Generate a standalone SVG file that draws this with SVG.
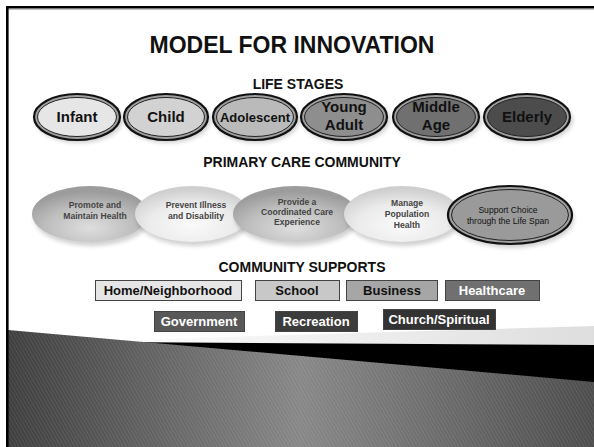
<svg xmlns="http://www.w3.org/2000/svg" width="594" height="447" viewBox="0 0 594 447">
<defs>
<style>
text{font-family:"Liberation Sans",Arial,sans-serif;font-weight:bold;text-anchor:middle}
.h1{font-size:23px;fill:#111}
.h2{font-size:14px;fill:#111}
.ls{font-size:15px;fill:#111}
.pc{font-size:8.6px;fill:#444}
.bx{font-size:13px}
.bs{stroke:#444;stroke-width:1}
.outer{stroke:#111;stroke-width:2.2;fill:#a0a0a0}
.inner{stroke:#222;stroke-width:1}
.shadow{fill:#000;opacity:0.18}
</style>
<radialGradient id="gDark" cx="0.5" cy="0.75" r="0.65">
<stop offset="0" stop-color="#dedede"/><stop offset="0.6" stop-color="#bdbdbd"/><stop offset="1" stop-color="#9c9c9c"/>
</radialGradient>
<radialGradient id="gLight" cx="0.5" cy="0.7" r="0.65">
<stop offset="0" stop-color="#fafafa"/><stop offset="0.6" stop-color="#ebebeb"/><stop offset="1" stop-color="#cfcfcf"/>
</radialGradient>
<linearGradient id="gBottom" x1="0" y1="0" x2="1" y2="0">
<stop offset="0" stop-color="#3e3e3e"/><stop offset="0.5" stop-color="#878787"/><stop offset="1" stop-color="#4c4c4c"/>
</linearGradient>
<linearGradient id="gCurl" x1="0" y1="0" x2="1" y2="0">
<stop offset="0" stop-color="#ffffff"/><stop offset="1" stop-color="#dedede"/>
</linearGradient>
<pattern id="stripes" width="3" height="10" patternUnits="userSpaceOnUse" patternTransform="rotate(-30)">
<rect x="0" y="0" width="1" height="10" fill="#fff" opacity="0.09"/>
</pattern>
<filter id="blur" x="-20%" y="-20%" width="140%" height="140%"><feGaussianBlur stdDeviation="2"/></filter>
</defs>

<rect width="594" height="447" fill="#fff"/>

<g id="background">
<polygon points="90,341 594,326 594,346 130,344" fill="url(#gCurl)"/>
<polygon points="110,342 594,345 594,447 8,447" fill="#000"/>
<polygon points="8,330 594,382 594,447 8,447" fill="url(#gBottom)"/>
<polygon points="8,330 594,382 594,447 8,447" fill="url(#stripes)"/>
<rect x="6" y="6" width="588" height="2.6" fill="#000"/>
<rect x="8" y="8.6" width="586" height="1" fill="#999"/>
<rect x="6" y="6" width="2.6" height="441" fill="#000"/>
</g>

<text class="h1" x="292" y="53">MODEL FOR INNOVATION</text>
<text class="h2" x="298" y="89">LIFE STAGES</text>
<text class="h2" x="302" y="167">PRIMARY CARE COMMUNITY</text>
<text class="h2" x="302" y="272">COMMUNITY SUPPORTS</text>

<g id="infant">
<ellipse class="shadow" cx="79" cy="120" rx="44" ry="23" filter="url(#blur)"/>
<ellipse class="outer" cx="77" cy="117" rx="43" ry="23"/>
<ellipse class="inner" cx="77" cy="117" rx="39.5" ry="19.5" fill="#e6e6e6"/>
<text class="ls" x="77" y="122">Infant</text>
</g>
<g id="child">
<ellipse class="shadow" cx="168" cy="120" rx="43" ry="23" filter="url(#blur)"/>
<ellipse class="outer" cx="166" cy="117" rx="42" ry="23"/>
<ellipse class="inner" cx="166" cy="117" rx="38.5" ry="19.5" fill="#d2d2d2"/>
<text class="ls" x="166" y="122">Child</text>
</g>
<g id="adolescent">
<ellipse class="shadow" cx="257" cy="120" rx="43" ry="23" filter="url(#blur)"/>
<ellipse class="outer" cx="255" cy="117" rx="42" ry="23"/>
<ellipse class="inner" cx="255" cy="117" rx="38.5" ry="19.5" fill="#bababa"/>
<text class="ls" x="255" y="122" style="font-size:13px">Adolescent</text>
</g>
<g id="young-adult">
<ellipse class="shadow" cx="346" cy="120" rx="44" ry="23" filter="url(#blur)"/>
<ellipse class="outer" cx="344" cy="117" rx="43" ry="23"/>
<ellipse class="inner" cx="344" cy="117" rx="39.5" ry="19.5" fill="#8e8e8e"/>
<text class="ls" x="344" y="112">Young</text>
<text class="ls" x="344" y="130">Adult</text>
</g>
<g id="middle-age">
<ellipse class="shadow" cx="438" cy="120" rx="44" ry="23" filter="url(#blur)"/>
<ellipse class="outer" cx="436" cy="117" rx="43" ry="23"/>
<ellipse class="inner" cx="436" cy="117" rx="39.5" ry="19.5" fill="#707070"/>
<text class="ls" x="436" y="112">Middle</text>
<text class="ls" x="436" y="130">Age</text>
</g>
<g id="elderly">
<ellipse class="shadow" cx="529" cy="120" rx="44" ry="23" filter="url(#blur)"/>
<ellipse class="outer" cx="527" cy="117" rx="43" ry="23"/>
<ellipse class="inner" cx="527" cy="117" rx="39.5" ry="19.5" fill="#4c4c4c"/>
<text class="ls" x="527" y="122">Elderly</text>
</g>

<g id="promote">
<ellipse class="shadow" cx="92" cy="218" rx="58" ry="28" filter="url(#blur)"/>
<ellipse cx="90" cy="214" rx="58" ry="28" fill="url(#gDark)"/>
<text class="pc" x="95" y="208">Promote and</text>
<text class="pc" x="95" y="219">Maintain Health</text>
</g>
<g id="prevent">
<ellipse class="shadow" cx="194" cy="218" rx="57" ry="28" filter="url(#blur)"/>
<ellipse cx="192" cy="214" rx="57" ry="28" fill="url(#gLight)"/>
<text class="pc" x="196" y="208">Prevent Illness</text>
<text class="pc" x="196" y="219">and Disability</text>
</g>
<g id="provide">
<ellipse class="shadow" cx="297" cy="218" rx="62" ry="28" filter="url(#blur)"/>
<ellipse cx="295" cy="214" rx="62" ry="28" fill="url(#gDark)"/>
<text class="pc" x="297" y="205">Provide a</text>
<text class="pc" x="297" y="215">Coordinated Care</text>
<text class="pc" x="297" y="225">Experience</text>
</g>
<g id="manage">
<ellipse class="shadow" cx="404" cy="218" rx="58" ry="28" filter="url(#blur)"/>
<ellipse cx="402" cy="214" rx="58" ry="28" fill="url(#gLight)"/>
<text class="pc" x="407" y="206">Manage</text>
<text class="pc" x="407" y="217">Population</text>
<text class="pc" x="407" y="228">Health</text>
</g>
<g id="support">
<ellipse class="shadow" cx="512" cy="219" rx="62" ry="29" filter="url(#blur)"/>
<ellipse class="outer" cx="510" cy="215" rx="62" ry="29"/>
<ellipse class="inner" cx="510" cy="215" rx="58.5" ry="25.5" fill="#9a9a9a"/>
<text class="pc" x="508" y="213" style="fill:#111;font-weight:normal">Support Choice</text>
<text class="pc" x="508" y="224" style="fill:#111;font-weight:normal">through the Life Span</text>
</g>

<g id="home">
<rect class="bs" x="95.5" y="280.5" width="146" height="20" fill="#e6e6e6"/>
<text class="bx" x="168" y="295" fill="#111">Home/Neighborhood</text>
</g>
<g id="school">
<rect class="bs" x="255.5" y="280.5" width="84" height="20" fill="#c8c8c8"/>
<text class="bx" x="297" y="295" fill="#111">School</text>
</g>
<g id="business">
<rect class="bs" x="346.5" y="280.5" width="91" height="20" fill="#a6a6a6"/>
<text class="bx" x="392" y="295" fill="#111">Business</text>
</g>
<g id="healthcare">
<rect class="bs" x="445.5" y="280.5" width="94" height="20" fill="#707070"/>
<text class="bx" x="492" y="295" fill="#fff">Healthcare</text>
</g>
<g id="government">
<rect class="bs" x="154.5" y="311.5" width="90" height="20" fill="#585858"/>
<text class="bx" x="199" y="326" fill="#fff">Government</text>
</g>
<g id="recreation">
<rect class="bs" x="275.5" y="311.5" width="82" height="20" fill="#3c3c3c"/>
<text class="bx" x="316" y="326" fill="#fff">Recreation</text>
</g>
<g id="church">
<rect class="bs" x="383.5" y="309.5" width="112" height="20" fill="#333"/>
<text class="bx" x="439" y="324" fill="#fff">Church/Spiritual</text>
</g>
</svg>
